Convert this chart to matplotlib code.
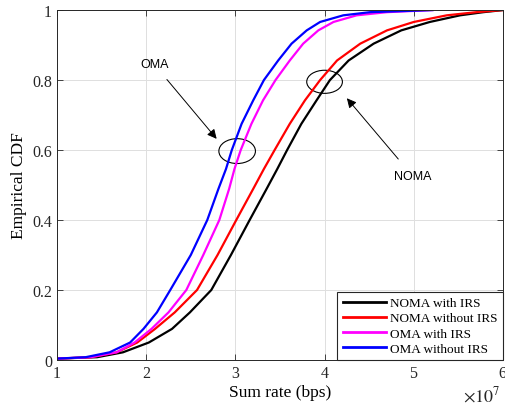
import numpy as np
import matplotlib.pyplot as plt
from matplotlib.patches import Ellipse
from matplotlib.ticker import ScalarFormatter

# --- Data (sum rate in units of 1e7 bps at each CDF level) ---
cdf_levels = [0.004, 0.008, 0.022, 0.05, 0.089, 0.136, 0.2, 0.3, 0.4, 0.489, 0.546,
              0.6, 0.675, 0.742, 0.8, 0.856, 0.904, 0.942, 0.966, 0.985, 0.994, 1.0]

noma_irs = [1.0, 1.45, 1.74, 2.03, 2.29, 2.49, 2.73, 2.95, 3.16, 3.35, 3.47,
            3.58, 3.74, 3.91, 4.06, 4.27, 4.55, 4.86, 5.18, 5.52, 5.78, 6.0]
noma_no_irs = [1.0, 1.38, 1.67, 1.90, 2.10, 2.32, 2.57, 2.80, 3.01, 3.20, 3.32,
               3.44, 3.61, 3.78, 3.95, 4.14, 4.40, 4.70, 5.00, 5.37, 5.70, 6.0]
oma_irs = [1.0, 1.38, 1.67, 1.87, 2.06, 2.25, 2.45, 2.64, 2.82, 2.93, 2.99,
           3.06, 3.18, 3.31, 3.45, 3.61, 3.76, 3.93, 4.10, 4.36, 4.70, 5.21]
oma_no_irs = [1.0, 1.32, 1.59, 1.82, 1.97, 2.12, 2.27, 2.50, 2.685, 2.81, 2.895,
              2.96, 3.07, 3.20, 3.32, 3.48, 3.63, 3.80, 3.95, 4.21, 4.51, 5.21]

series = [
    ('NOMA with IRS', noma_irs, 'black'),
    ('NOMA without IRS', noma_no_irs, 'red'),
    ('OMA with IRS', oma_irs, 'magenta'),
    ('OMA without IRS', oma_no_irs, 'blue'),
]

x_ticks = [1, 2, 3, 4, 5, 6]
y_ticks = [0, 0.2, 0.4, 0.6, 0.8, 1]
y_tick_labels = ['0', '0.2', '0.4', '0.6', '0.8', '1']

# --- Plotting ---
plt.rcParams['font.family'] = ['Liberation Serif', 'DejaVu Serif']
plt.rcParams['mathtext.fontset'] = 'stix'

fig = plt.figure(figsize=(5.06, 4.10), dpi=100)
ax = fig.add_axes([0.1126, 0.1195, 0.8814, 0.8535])

scale = 1e7
for label, rate, color in series:
    ax.plot(np.array(rate) * scale, cdf_levels, color=color, linewidth=1.6, label=label)

ax.set_xlim(1 * scale, 6 * scale)
ax.set_ylim(0, 1)
ax.set_xticks(np.array(x_ticks) * scale)
ax.set_yticks(y_ticks)
ax.set_yticklabels(y_tick_labels)

# ticks as 1..6, multiplier drawn by hand below the axis (MATLAB style)
fmt = ScalarFormatter(useMathText=True)
fmt.set_powerlimits((0, 0))
ax.xaxis.set_major_formatter(fmt)
ax.xaxis.get_offset_text().set_visible(False)
fig.text(0.988, 0.01, r'$\times10^{7}$', ha='right', va='bottom', fontsize=13,
         color='#262626')

ax.tick_params(direction='in', top=True, right=True, labelsize=11.5,
               colors='#262626', length=4, width=0.6)
for s in ax.spines.values():
    s.set_color('#262626')
    s.set_linewidth(0.7)
ax.grid(True, color='#dfdfdf', linewidth=0.7)
ax.set_axisbelow(True)

ax.set_xlabel('Sum rate (bps)', fontsize=12.5, labelpad=2)
ax.set_ylabel('Empirical CDF', fontsize=12.5, labelpad=4)

# Annotations: ellipses and arrows
ax.add_patch(Ellipse((3.02 * scale, 0.597), 0.41 * scale, 0.071,
                     fill=False, edgecolor='black', linewidth=0.8))
ax.add_patch(Ellipse((4.0 * scale, 0.795), 0.40 * scale, 0.066,
                     fill=False, edgecolor='black', linewidth=0.8))

ax.annotate('OMA', xy=(2.79 * scale, 0.632), xytext=(2.09 * scale, 0.845),
            fontsize=9, family='Liberation Sans', ha='center', va='center',
            arrowprops=dict(arrowstyle='-|>', color='black', lw=0.7,
                            mutation_scale=14, shrinkA=6, shrinkB=0))
ax.annotate('NOMA', xy=(4.25 * scale, 0.748), xytext=(4.99 * scale, 0.525),
            fontsize=9, family='Liberation Sans', ha='center', va='center',
            arrowprops=dict(arrowstyle='-|>', color='black', lw=0.7,
                            mutation_scale=14, shrinkA=8, shrinkB=0))

leg = ax.legend(loc='lower right', fontsize=9.5, borderaxespad=0,
                handlelength=3.3, handletextpad=0.3, labelspacing=0.22,
                borderpad=0.4, fancybox=False, framealpha=1)
leg.get_frame().set_edgecolor('#262626')
leg.get_frame().set_linewidth(0.8)
for line in leg.get_lines():
    line.set_linewidth(2)

fig.savefig('out.png', dpi=100)
